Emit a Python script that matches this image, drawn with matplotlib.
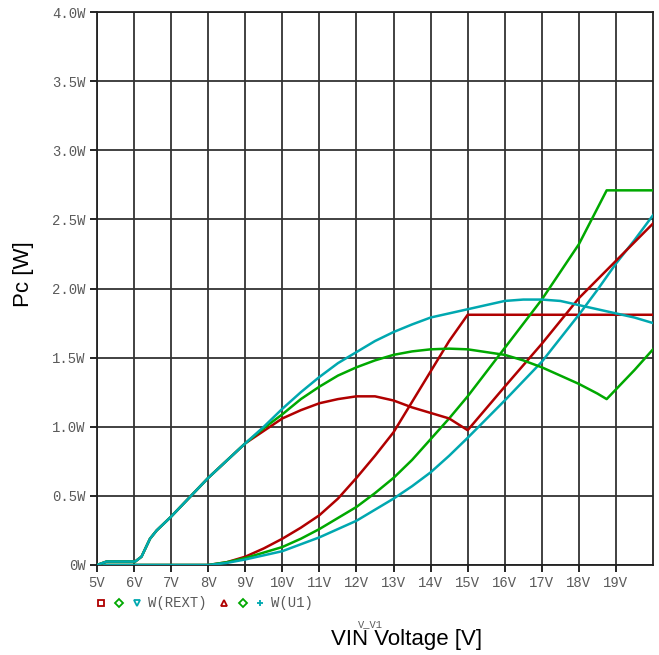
import numpy as np
import matplotlib.pyplot as plt
from matplotlib.lines import Line2D

# colours of the simulator traces
RED = '#b00000'
GREEN = '#00a800'
CYAN = '#00a8b0'

# traces that start at ~6V
v_red_a = [5.0, 5.26, 6.03, 6.2, 6.43, 6.61, 7.0, 7.5, 8.0, 8.6, 9.0, 9.5, 10, 10.5, 11, 11.5, 12, 12.5, 13, 13.5, 14, 14.5, 15, 16, 17, 18, 19, 20]
p_red_a = [0, .025, .025, .06, .19, .25, .35, .49, .63, .78, .88, .97, 1.06, 1.12, 1.17, 1.20, 1.22, 1.22, 1.19, 1.14, 1.10, 1.06, 0.975, 1.29, 1.60, 1.93, 2.20, 2.47]

v_green_a = [5.0, 5.26, 6.03, 6.2, 6.43, 6.61, 7.0, 7.5, 8.0, 8.6, 9.0, 9.5, 10, 10.5, 11, 11.5, 12, 12.5, 13, 13.5, 14, 14.5, 15, 16, 16.5, 17, 17.5, 18, 18.5, 18.75, 19, 19.5, 20]
p_green_a = [0, .025, .025, .06, .19, .25, .35, .49, .63, .78, .88, .99, 1.09, 1.20, 1.29, 1.37, 1.43, 1.48, 1.52, 1.545, 1.56, 1.565, 1.56, 1.52, 1.48, 1.43, 1.37, 1.31, 1.24, 1.20, 1.27, 1.41, 1.56]

v_cyan_a = [5.0, 5.26, 6.03, 6.2, 6.43, 6.61, 7.0, 7.5, 8.0, 8.6, 9.0, 9.5, 10, 10.5, 11, 11.5, 12, 12.5, 13, 13.5, 14, 14.5, 15, 16, 16.5, 17, 17.5, 18, 18.5, 19, 19.5, 20]
p_cyan_a = [0, .025, .025, .06, .19, .25, .35, .49, .63, .78, .88, 1.00, 1.13, 1.25, 1.36, 1.46, 1.54, 1.62, 1.685, 1.74, 1.79, 1.82, 1.85, 1.91, 1.92, 1.92, 1.91, 1.88, 1.85, 1.82, 1.79, 1.75]

# traces that start at ~8V
v_red_b = [5, 8, 8.5, 9, 9.5, 10, 10.5, 11, 11.5, 12, 12.5, 13, 13.5, 14, 14.5, 15, 20]
p_red_b = [0, 0, .02, .06, .12, .19, .27, .36, .48, .63, .79, .96, 1.18, 1.40, 1.62, 1.81, 1.81]

v_green_b = [5, 8, 8.5, 9, 9.5, 10, 10.5, 11, 11.5, 12, 12.5, 13, 13.5, 14, 14.5, 15, 16, 17, 18, 18.75, 20]
p_green_b = [0, 0, .02, .05, .09, .13, .19, .26, .34, .42, .52, .63, .76, .91, 1.06, 1.22, 1.57, 1.92, 2.32, 2.71, 2.71]

v_cyan_b = [5, 8, 8.5, 9, 9.5, 10, 10.5, 11, 11.5, 12, 12.5, 13, 13.5, 14, 14.5, 15, 16, 17, 17.5, 18, 18.5, 19, 19.5, 20]
p_cyan_b = [0, 0, .015, .04, .07, .10, .15, .20, .26, .32, .40, .48, .57, .67, .79, .92, 1.19, 1.47, 1.64, 1.81, 1.99, 2.18, 2.35, 2.53]

x_ticks = list(range(5, 20))
x_labels = [f'{v}V' for v in x_ticks]
y_ticks = [0, 0.5, 1.0, 1.5, 2.0, 2.5, 3.0, 3.5, 4.0]
y_labels = ['0W', '0.5W', '1.0W', '1.5W', '2.0W', '2.5W', '3.0W', '3.5W', '4.0W']

W, H = 659, 655
fig = plt.figure(figsize=(W / 100, H / 100), dpi=100)
ax = fig.add_axes([97 / W, 90 / H, 556 / W, 553 / H])

mono = 'Liberation Mono'
tick_col = '#5a5a5a'

for v, p, c in [(v_red_b, p_red_b, RED), (v_green_b, p_green_b, GREEN), (v_cyan_b, p_cyan_b, CYAN),
                (v_red_a, p_red_a, RED), (v_green_a, p_green_a, GREEN), (v_cyan_a, p_cyan_a, CYAN)]:
    ax.plot(v, p, color=c, lw=1.8, zorder=3)

ax.set_xlim(5, 20)
ax.set_ylim(0, 4.0)
ax.set_xticks(x_ticks)
ax.set_xticklabels(x_labels, fontfamily=mono, fontsize=10, color=tick_col)
ax.set_yticks(y_ticks)
ax.set_yticklabels(y_labels, fontfamily=mono, fontsize=10, color=tick_col)
ax.tick_params(direction='out', length=5, width=1.2, color='black', pad=3)
ax.grid(True, color='#333333', lw=1.3)
for s in ax.spines.values():
    s.set_color('#222222')
    s.set_linewidth(1.3)

fig.text(24 / W, 1 - 274 / H, 'Pc [W]', fontfamily='Liberation Sans', fontsize=16,
         rotation=90, ha='center', va='center')
fig.text(407 / W, 1 - 640 / H, 'VIN Voltage [V]', fontfamily='Liberation Sans',
         fontsize=16, ha='center', va='center')
fig.text(370 / W, 1 - 624 / H, 'V_V1', fontfamily=mono, fontsize=7.5, color=tick_col,
         ha='center', va='center')

# legend row under the axis
ly = 1 - 603 / H
for x, m, c in [(101, 's', RED), (119, 'D', GREEN), (137, 'v', CYAN),
                (224, '^', RED), (243, 'D', GREEN), (260, '+', CYAN)]:
    fig.add_artist(Line2D([x / W], [ly], marker=m, ms=5 if m != 'D' else 4, mfc='none',
                          mec=c, mew=1.3, ls='none', transform=fig.transFigure))
fig.text(148 / W, ly, 'W(REXT)', fontfamily=mono, fontsize=10, color=tick_col, va='center')
fig.text(271 / W, ly, 'W(U1)', fontfamily=mono, fontsize=10, color=tick_col, va='center')

fig.savefig('out.png', dpi=100)
